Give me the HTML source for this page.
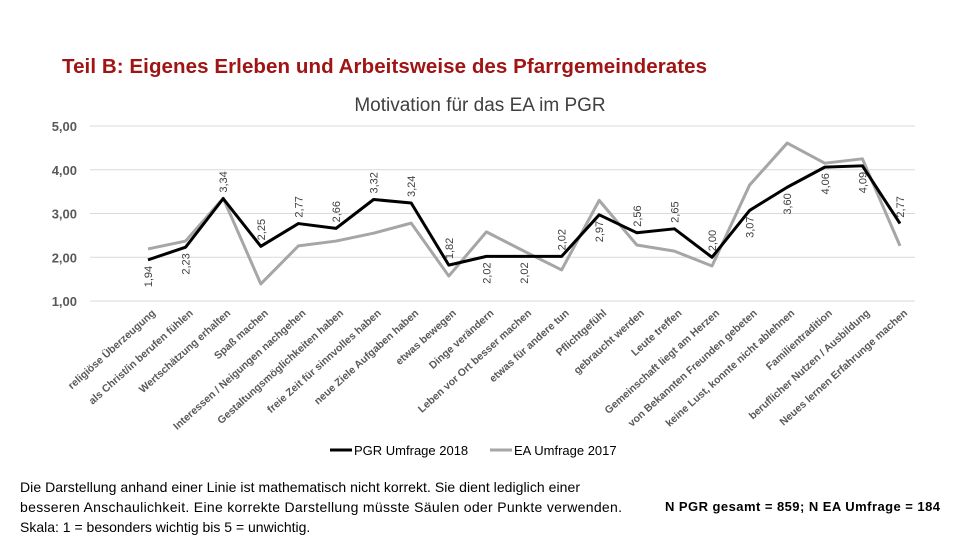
<!DOCTYPE html>
<html><head><meta charset="utf-8">
<style>
body{margin:0;background:#fff;font-family:"Liberation Sans",sans-serif;}
#wrap{position:relative;width:960px;height:540px;overflow:hidden;}
</style></head>
<body>
<div id="wrap">
<svg id="chart" width="960" height="540" style="position:absolute;left:0;top:0">
<text x="62" y="73" font-size="20.5" font-weight="bold" fill="#A01414" textLength="645">Teil B: Eigenes Erleben und Arbeitsweise des Pfarrgemeinderates</text>
<text x="480" y="111" font-size="19" fill="#404040" text-anchor="middle">Motivation für das EA im PGR</text>
<g id="grid"></g>
<g id="ylabels"></g>
<g id="xlabels"></g>
<g id="series"></g>
<g id="vlabels"></g>
<g>
<line x1="330" y1="450" x2="352" y2="450" stroke="#000" stroke-width="3"/>
<text x="354" y="455" font-size="13" fill="#000">PGR Umfrage 2018</text>
<line x1="490" y1="450" x2="512" y2="450" stroke="#A6A6A6" stroke-width="3"/>
<text x="514" y="455" font-size="13" fill="#000">EA Umfrage 2017</text>
</g>
<g font-size="14" fill="#000">
<text x="20" y="492" textLength="560">Die Darstellung anhand einer Linie ist mathematisch nicht korrekt. Sie dient lediglich einer</text>
<text x="20" y="512" textLength="602">besseren Anschaulichkeit. Eine korrekte Darstellung müsste Säulen oder Punkte verwenden.</text>
<text x="20" y="532">Skala: 1 = besonders wichtig bis 5 = unwichtig.</text>
</g>
<text x="665" y="511" font-size="13" font-weight="bold" fill="#000" textLength="275">N PGR gesamt = 859; N EA Umfrage = 184</text>
</svg>
</div>
<script>
const categories=["religiöse Überzeugung","als Christ/in berufen fühlen","Wertschätzung erhalten","Spaß machen","Interessen / Neigungen nachgehen","Gestaltungsmöglichkeiten haben","freie Zeit für sinnvolles haben","neue Ziele Aufgaben haben","etwas bewegen","Dinge verändern","Leben vor Ort besser machen","etwas für andere tun","Pflichtgefühl","gebraucht werden","Leute treffen","Gemeinschaft liegt am Herzen","von Bekannten Freunden gebeten","keine Lust, konnte nicht ablehnen","Familientradition","beruflicher Nutzen / Ausbildung","Neues lernen Erfahrunge machen"];
const pgr2018=[1.94,2.23,3.34,2.25,2.77,2.66,3.32,3.24,1.82,2.02,2.02,2.02,2.97,2.56,2.65,2.00,3.07,3.60,4.06,4.09,2.77];
const ea2017=[2.19,2.37,3.35,1.39,2.26,2.37,2.55,2.78,1.57,2.58,2.14,1.71,3.3,2.28,2.14,1.8,3.65,4.61,4.15,4.25,2.26];
const yTicks=[1,2,3,4,5];
const labelBelow=[1,1,0,0,0,0,0,0,0,1,1,0,1,0,0,0,1,1,1,1,0];
const NS="http://www.w3.org/2000/svg";
const x0=148,x1=900,yBase=301,yUnit=43.75;
const xs=i=>x0+i*(x1-x0)/(categories.length-1);
const ys=v=>yBase-(v-1)*yUnit;
function mk(tag,parent,attrs){const e=document.createElementNS(NS,tag);for(const k in attrs)e.setAttribute(k,attrs[k]);parent.appendChild(e);return e;}
const fmt=v=>v.toFixed(2).replace('.',',');
const grid=document.getElementById('grid'),yl=document.getElementById('ylabels');
yTicks.forEach(t=>{
 const l=mk('line',grid,{x1:90,x2:915,y1:ys(t),y2:ys(t),stroke:'#D9D9D9','stroke-width':1});
 
 
 const tx=mk('text',yl,{x:77,y:ys(t)+5,'font-size':13,'font-weight':'bold',fill:'#595959','text-anchor':'end'});
 tx.textContent=fmt(t);
 
 
});
const xl=document.getElementById('xlabels');
categories.forEach((c,i)=>{
 const x=xs(i)+8,y=314;
 const t=mk('text',xl,{x:x,y:y,'font-size':10.5,'font-weight':'bold',fill:'#595959','text-anchor':'end',transform:`rotate(-42 ${x} ${y})`});
 t.textContent=c;
 
 
});
const se=document.getElementById('series');
function line(vals,color,name){
 const p=mk('polyline',se,{points:vals.map((v,i)=>xs(i)+','+ys(v)).join(' '),fill:'none',stroke:color,'stroke-width':3,'stroke-linejoin':'round'});
 
 
}
line(ea2017,'#A6A6A6','line-ea-2017');
line(pgr2018,'#000','line-pgr-2018');
const vl=document.getElementById('vlabels');
pgr2018.forEach((v,i)=>{
 const x=xs(i)+4;
 const y=labelBelow[i]?ys(v)+6:ys(v)-6;
 const t=mk('text',vl,{x:x,y:y,'font-size':11,fill:'#404040','text-anchor':labelBelow[i]?'end':'start',transform:`rotate(-90 ${x} ${y})`});
 t.textContent=fmt(v);
 
 
});
</script>
</body></html>
